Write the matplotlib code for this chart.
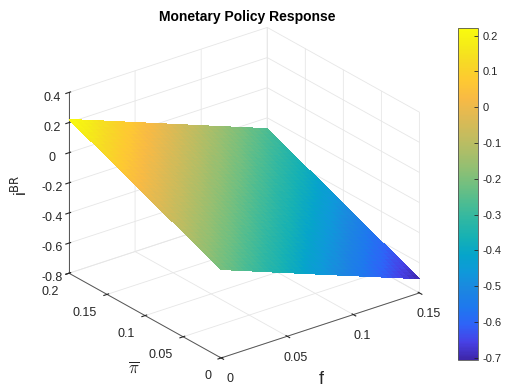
import numpy as np
import matplotlib
matplotlib.use("Agg")
import matplotlib.pyplot as plt
from matplotlib.colors import LinearSegmentedColormap

plt.rcParams['font.family'] = ['Liberation Sans', 'DejaVu Sans']

# Grid of inflation target (pi bar) and f values
pi_bar = [0.0, 0.05, 0.10, 0.15, 0.20]
f_vals = [0.0, 0.05, 0.10, 0.15]
# Policy rate response i^BR, rows follow pi_bar, columns follow f_vals
i_br = [
    [-0.213, -0.378, -0.542, -0.706],
    [-0.105, -0.269, -0.434, -0.598],
    [0.004, -0.161, -0.325, -0.490],
    [0.113, -0.052, -0.216, -0.381],
    [0.221, 0.057, -0.108, -0.272],
]
z_ticks = [-0.8, -0.6, -0.4, -0.2, 0, 0.2, 0.4]
pi_ticks = [0, 0.05, 0.1, 0.15, 0.2]
f_ticks = [0, 0.05, 0.1, 0.15]
cbar_ticks = [0.2, 0.1, 0, -0.1, -0.2, -0.3, -0.4, -0.5, -0.6, -0.7]

# parula-like colormap
_parula = [
    [0.2422, 0.1504, 0.6603], [0.2780, 0.2547, 0.8997], [0.1816, 0.3886, 0.9702],
    [0.1176, 0.4710, 0.9325], [0.1086, 0.5264, 0.8809], [0.0585, 0.5964, 0.8538],
    [0.0232, 0.6450, 0.7926], [0.0843, 0.6928, 0.7062], [0.1801, 0.7177, 0.6424],
    [0.3022, 0.7376, 0.5712], [0.4420, 0.7481, 0.5033], [0.5709, 0.7485, 0.4494],
    [0.6834, 0.7435, 0.4044], [0.7858, 0.7356, 0.3633], [0.8824, 0.7274, 0.3217],
    [0.9739, 0.7314, 0.2666], [0.9955, 0.7861, 0.1967], [0.9697, 0.8481, 0.1475],
    [0.9598, 0.9218, 0.0948], [0.9763, 0.9831, 0.0538],
]
parula = LinearSegmentedColormap.from_list('parula', _parula, N=256)


def refine(vals, n):
    """Subdivide a monotone coordinate vector for smooth (interp) shading."""
    vals = np.asarray(vals, float)
    t = np.linspace(0, len(vals) - 1, (len(vals) - 1) * n + 1)
    return np.interp(t, np.arange(len(vals)), vals)


def refine_grid(z, n):
    z = np.asarray(z, float)
    rows = np.array([refine(r, n) for r in z])
    return np.array([refine(c, n) for c in rows.T]).T


n_sub = 12
Fg, Pg = np.meshgrid(refine(f_vals, n_sub), refine(pi_bar, n_sub))
Zg = refine_grid(i_br, n_sub)

zmin, zmax = Zg.min(), Zg.max()
norm = plt.Normalize(zmin, zmax)

fig = plt.figure(figsize=(5.05, 3.86), dpi=100)
ax = fig.add_axes([12 / 505, 5 / 386, 0.9, 0.95], projection='3d', proj_type='ortho')
ax.view_init(elev=25.3, azim=-127.5)
ax.set_box_aspect((1, 1, 0.8), zoom=1.075)

ax.plot_surface(Fg, Pg, Zg, facecolors=parula(norm(Zg)), rstride=1, cstride=1,
                linewidth=0, antialiased=False, shade=False)

ax.set_xlim(0, 0.15)
ax.set_ylim(0, 0.2)
ax.set_zlim(-0.8, 0.4)
ax.set_xticks(f_ticks)
ax.set_yticks(pi_ticks)
ax.set_zticks(z_ticks)
ax.set_xticklabels([f"{v:g}" for v in f_ticks])
ax.set_yticklabels([f"{v:g}" for v in pi_ticks], ha='right')
ax.set_zticklabels([f"{v:g}" for v in z_ticks])

for axis in (ax.xaxis, ax.yaxis, ax.zaxis):
    axis.set_pane_color((1, 1, 1, 0))
    axis.pane.set_edgecolor('#e6e6e6')
    axis._axinfo['grid']['color'] = '#e6e6e6'
    axis._axinfo['grid']['linewidth'] = 0.6
    axis.line.set_color('#555555')
    axis.line.set_linewidth(0.7)
ax.tick_params(labelsize=9, colors='#262626')
ax.zaxis.set_tick_params(pad=-1.5)
ax.xaxis.set_tick_params(pad=0)
ax.yaxis.set_tick_params(pad=-1)

# Axis labels
fig.text(321 / 505, 1 - 379 / 386, 'f', fontsize=13, color='#262626',
         ha='center', va='center')
fig.text(134 / 505, 1 - 368 / 386, r'$\overline{\pi}$', fontsize=12, color='#262626',
         ha='center', va='center', math_fontfamily='cm')
fig.text(20 / 505, 1 - 185 / 386, r'i$^{\mathrm{BR}}$', fontsize=12, color='#262626',
         ha='center', va='center', rotation=90)

fig.text(247 / 505, 1 - 17 / 386, 'Monetary Policy Response', fontsize=10,
         fontweight='bold', color='#000000', ha='center', va='center')

cax = fig.add_axes([458 / 505, 26 / 386, 20 / 505, 332 / 386])
sm = plt.cm.ScalarMappable(norm=norm, cmap=parula)
cb = fig.colorbar(sm, cax=cax, ticks=cbar_ticks)
cb.ax.set_yticklabels([f"{v:g}" for v in cbar_ticks])
cb.ax.tick_params(labelsize=8, colors='#262626', direction='in', length=3, width=0.6)
cb.outline.set_edgecolor('#555555')
cb.outline.set_linewidth(0.6)

fig.savefig('out.png', dpi=100)
